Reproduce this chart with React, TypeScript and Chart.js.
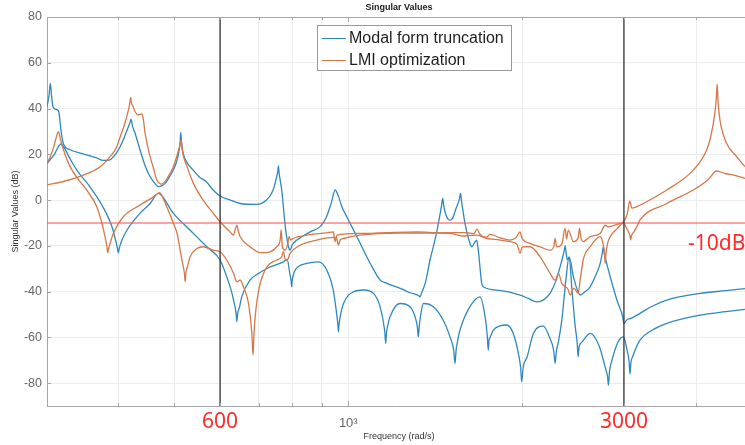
import { useEffect, useRef } from 'react';
import { Chart, registerables } from 'chart.js';

Chart.register(...registerables);

// ---- data: [frequency (rad/s), singular value (dB)] ----
const blueUpper: [number, number][] = [
  [301, 40.7], [303.5, 46], [305, 51], [306.5, 45.5], [308.5, 40.5], [313, 39.5], [315.5, 38.5], [318.4, 30],
  [321.5, 24.5], [330, 22], [347.5, 20.2], [367.6, 18.3], [376.5, 17.3], [387, 17.6], [396, 20.2], [402.8, 23.3],
  [409, 27], [414.2, 30.6], [418.5, 33.5], [420.8, 35.4], [423, 32.5], [427.6, 29.2], [436, 22], [445, 15],
  [454, 10.2], [462, 7.5], [469, 5.9], [476, 6.3], [482, 7.3], [490, 10], [498, 13.1], [504, 16.5], [508.6, 20.4],
  [511.5, 25], [513, 29.6], [514.5, 25], [518, 20.4], [527, 16], [539, 13.1], [553, 10], [568, 8], [583, 4.5],
  [600, 1.75], [625, 0], [650, -1.5], [693, -1.9], [722, 0], [740, 4], [747, 7.3], [753, 11], [755.5, 13],
  [757, 14.9], [759, 12], [762, 9], [767, 4.4], [778, -11.7], [788, -20.4], [793, -21.9], [800, -19.5],
  [815, -17.5], [859, -13.9], [894, -11.6], [917, -7.3], [935, -1], [949, 4.4], [962, 1.5], [975, -3], [994, -7.3],
  [1035, -16], [1048, -18.8], [1091, -27.6], [1136, -35], [1166, -36.4], [1230, -38.6], [1279, -40.5],
  [1325, -41.8], [1331, -42.3], [1340, -40.5], [1360, -36], [1385, -26.2], [1421, -14.6], [1450, -2.5],
  [1457, 0.7], [1462, -2], [1470, -5], [1485, -8], [1500, -8.8], [1515, -8], [1535, -4], [1555, 0], [1565, 2.9],
  [1570, -0.5], [1578, -4], [1592, -10.1], [1624, -18.9], [1636, -20.4], [1655, -18.5], [1668, -17.5],
  [1679, -21.9], [1702, -36.4], [1713, -37.9], [1830, -39.5], [1983, -41.5], [2050, -43], [2120, -44.5],
  [2180, -43.5], [2235, -40.8], [2290, -35], [2326, -29.2], [2350, -25], [2365, -22], [2373, -20], [2382, -23],
  [2394, -26], [2413, -25], [2453, -33.5], [2519, -41.5], [2570, -40], [2622, -37.9], [2680, -33], [2729, -27.7],
  [2752, -23], [2763, -20.4], [2772, -23], [2790, -26], [2840, -33.5], [2920, -44], [2985, -51], [3000, -54],
  [3030, -52.5], [3100, -51.5], [3198, -49.5], [3350, -46.5], [3558, -43.7], [4062, -40.8], [4500, -39.6],
  [4859, -38.7],
];

const blueLower: [number, number][] = [
  [301, 16], [310, 20], [318, 24.5], [321.5, 23.3], [330, 18], [339, 13.1], [357, 5.9], [376, -2.9], [390, -11.7],
  [396, -18], [398.5, -21], [400, -23], [401.5, -21], [405, -18], [414, -13.1], [436, -5.8], [454, -1.5],
  [469, 2.9], [498, -5.8], [532, -13.1], [569, -20.4], [600, -26.2], [616, -33.5], [628, -40], [633, -43.7],
  [639.5, -49.5], [641.4, -53.2], [643.5, -49.5], [648, -47], [654, -42.3], [676, -35], [700, -32], [723, -29.9],
  [772, -27], [784, -26], [792, -32], [796.5, -35.5], [798, -37.9], [799.5, -35.5], [803, -33], [809, -30.6],
  [848, -27.7], [888, -27], [918, -30.6], [942, -39.3], [955, -50], [959.5, -54.5], [961.6, -57.6],
  [963.8, -54.5], [970, -50], [981, -45.2], [1021, -40.1], [1064, -39.3], [1106, -40.8], [1135, -46.6],
  [1156, -57], [1161, -62.7], [1164.5, -58], [1170, -55], [1181, -51], [1229, -45.2], [1279, -46.6], [1305, -51],
  [1317, -55.5], [1322, -59.8], [1327, -55], [1335, -50], [1349, -45.2], [1403, -46.6], [1460, -52.5],
  [1500, -59.8], [1522, -65.5], [1530, -71.4], [1537, -65.5], [1545, -62], [1561, -56.8], [1624, -46.6],
  [1690, -42.3], [1725, -51], [1741, -60], [1747, -65.6], [1752, -61.5], [1760, -60], [1783, -56.8], [1830, -55],
  [1880, -54.6], [1930, -58.3], [1975, -68.5], [1988, -73.5], [1996, -79.4], [2008, -73], [2040, -68.5],
  [2091, -58.3], [2176, -55.1], [2230, -60], [2268, -66], [2280, -71.4], [2292, -66], [2310, -62], [2342, -52.5],
  [2380, -35], [2411, -25], [2440, -40], [2470, -55], [2490, -62.5], [2499, -68.5], [2510, -64], [2540, -62],
  [2622, -58.3], [2720, -64], [2790, -74], [2810, -77], [2820, -80.9], [2832, -75], [2860, -70], [2930, -62],
  [2994, -59.8], [3040, -66], [3062, -70.5], [3073, -76], [3085, -71], [3110, -68], [3198, -61.2], [3350, -57],
  [3558, -53.9], [4062, -50.3], [4500, -48.8], [4859, -47.8],
];

const orangeA: [number, number][] = [
  [301, 16], [305, 19], [309, 23], [312, 27], [315, 29.9], [318, 26], [321.5, 21.9], [330, 14.6], [341, 9],
  [352.5, 4.4], [367, -2.9], [376, -11.7], [380, -17], [382, -20], [383.5, -23], [385, -21], [387, -19],
  [392, -14.6], [408, -7.3], [436, -2.2], [460, 1.4], [471, 3.2], [485, -2.9], [498, -10.1], [506, -15],
  [511.7, -21.9], [517, -28], [520.5, -32], [522, -35.7], [523.5, -32], [527, -29], [532.4, -24.8], [547, -21.2],
  [561, -20.4], [584, -21.9], [600, -22.6], [616, -26.2], [633, -32], [641.4, -35.7], [650, -35], [658.6, -37.9],
  [672, -45.2], [681, -58.3], [684, -67.8], [687, -58], [690, -51], [697, -42], [704, -36.4], [723, -29.2],
  [752, -26.2], [767, -24.8], [772, -22.5], [778, -26], [783, -26.5], [793, -23.3], [826, -19.7], [882, -17.5],
  [942, -16.3], [955, -16.8], [961.6, -19.7], [968, -17.5], [981, -16.8], [1048, -15.3], [1230, -14.4],
  [1441, -14.4], [1520, -14.8], [1540, -15.2], [1582, -15.7], [1610, -15.5], [1670, -15.3], [1736, -16.8],
  [1800, -17.2], [1905, -18.2], [1960, -19.5], [1983, -23.3], [2000, -20.5], [2063, -20.4], [2148, -24.8],
  [2235, -32], [2280, -35], [2311, -32], [2342, -36.4], [2400, -39], [2421, -41.5], [2459, -38.5], [2498, -40.8],
  [2520, -35], [2550, -26.2], [2622, -20.4], [2729, -16], [2760, -19], [2776, -23.5], [2784, -27.7],
  [2792, -23.5], [2810, -19], [2840, -16], [2920, -12.5], [2994, -10.1], [3040, -13], [3072, -15.5],
  [3081, -17.5], [3092, -15.5], [3120, -14], [3157, -11.7], [3198, -8.7], [3558, -1.5], [3955, 4.4], [4200, 9],
  [4340, 12.7], [4500, 11.5], [4642, 10.9], [4859, 9.5],
];

const orangeB: [number, number][] = [
  [301, 6.6], [320, 8], [348, 10.9], [372, 14.6], [387, 19], [397, 23], [403, 27.7], [410, 33], [416, 39],
  [418.5, 42], [420.2, 44.9], [421.5, 42.5], [424, 41], [427.6, 38.6], [433, 37.2], [439, 37.6], [442, 35],
  [445, 29.2], [454, 19], [460, 14], [466.3, 8.8], [475.7, 7], [486, 9.5], [498, 14.6], [508.6, 21.9],
  [512, 24.5], [514, 26.5], [516, 21.9], [526, 14.6], [539.5, 7.3], [560.7, 0], [584, -5.8], [600, -9.5],
  [624.5, -13.9], [632.8, -15.3], [637, -13], [641.4, -11], [645, -13.5], [650, -16], [676, -20.4], [704, -23],
  [732.5, -22.6], [752, -20.4], [762.3, -17.5], [765.4, -13], [769, -20.4], [777.7, -21.9], [785, -19.5],
  [790, -16], [795, -17.5], [802, -16.8], [848, -15.3], [918, -14.3], [942, -13.9], [949, -18.2], [956, -15.3],
  [1048, -14.6], [1150, -14.3], [1317, -13.9], [1441, -14.3], [1600, -14.2], [1650, -14.8], [1670, -12.7],
  [1690, -15], [1736, -16.2], [1759, -15], [1830, -16.5], [1905, -17.5], [1950, -16.5], [1983, -13.9],
  [2000, -17], [2063, -18.9], [2150, -20.5], [2235, -21.9], [2270, -20], [2280, -16.8], [2295, -20.5],
  [2340, -19.5], [2373, -12.4], [2387, -17], [2403, -13.1], [2453, -18.2], [2500, -16.5], [2513, -12.4],
  [2530, -17], [2550, -18.2], [2622, -16], [2729, -14.6], [2784, -11], [2817, -11.7], [2925, -10.5],
  [2994, -9.5], [3040, -6], [3065, -1], [3073, -0.5], [3095, -3.5], [3150, -3], [3241, -1.5], [3558, 4.4],
  [3955, 13.1], [4172, 21.9], [4242, 28], [4310, 37.9], [4335, 44.5], [4350, 50.7], [4365, 43], [4398, 35],
  [4517, 24.8], [4700, 19], [4859, 14.6],
];

const yTickValues = [-80, -60, -40, -20, 0, 20, 40, 60, 80];
const xTickValues = [400, 500, 600, 700, 800, 900, 1000, 2000, 3000, 4000];
const xLabelled = [1000];
const xLabelText = ['10³'];
const xRange = [301, 4860];
const yRange = [-90, 80];
const markerFreqs = [600, 3000];
const markerLabels = ['600', '3000'];
const thresholdDb = -10;
const thresholdLabel = '-10dB';
const legendLabels = ['Modal form truncation', 'LMI optimization'];
const chartTitle = 'Singular Values';
const xTitle = 'Frequency (rad/s)';
const yTitle = 'Singular Values (dB)';

const BLUE = '#2f88bd';
const ORANGE = '#d4784a';
const RED = '#ff2b2b';

const overlay = {
  id: 'overlay',
  afterDatasetsDraw(chart: any) {
    const { ctx, chartArea: a, scales } = chart;
    const x = scales.x;
    const y = scales.y;
    ctx.save();
    const yr = y.getPixelForValue(thresholdDb);
    ctx.strokeStyle = 'rgba(252,90,90,0.75)';
    ctx.lineWidth = 1.6;
    ctx.beginPath();
    ctx.moveTo(a.left, yr);
    ctx.lineTo(a.right, yr);
    ctx.stroke();
    ctx.strokeStyle = '#333333';
    ctx.lineWidth = 1.3;
    for (const f of markerFreqs) {
      const px = x.getPixelForValue(f);
      ctx.beginPath();
      ctx.moveTo(px, a.top);
      ctx.lineTo(px, a.bottom);
      ctx.stroke();
    }
    ctx.restore();
  },
  afterDraw(chart: any) {
    const { ctx, chartArea: a, scales } = chart;
    const x = scales.x;
    const y = scales.y;
    ctx.save();
    // top border and inward ticks
    ctx.strokeStyle = '#a6a6a6';
    ctx.lineWidth = 1;
    ctx.beginPath();
    ctx.moveTo(a.left, a.top + 0.5);
    ctx.lineTo(a.right, a.top + 0.5);
    ctx.stroke();
    ctx.beginPath();
    for (const v of yTickValues) {
      const py = Math.round(y.getPixelForValue(v)) + 0.5;
      ctx.moveTo(a.left, py);
      ctx.lineTo(a.left + 4, py);
    }
    for (const v of xTickValues) {
      const px = Math.round(x.getPixelForValue(v)) + 0.5;
      const len = v === 1000 ? 5 : 3;
      ctx.moveTo(px, a.bottom);
      ctx.lineTo(px, a.bottom - len);
      ctx.moveTo(px, a.top);
      ctx.lineTo(px, a.top + len);
    }
    ctx.stroke();

    // titles
    const cx = 399;
    ctx.fillStyle = '#222';
    ctx.textAlign = 'center';
    ctx.textBaseline = 'middle';
    ctx.font = 'bold 9px "Liberation Sans", Arial, sans-serif';
    ctx.fillText(chartTitle, cx, 8);
    ctx.fillStyle = '#333';
    ctx.font = '9px "Liberation Sans", Arial, sans-serif';
    ctx.fillText(xTitle, cx, 437);
    ctx.save();
    ctx.translate(16, (a.top + a.bottom) / 2);
    ctx.rotate(-Math.PI / 2);
    ctx.fillText(yTitle, 0, 0);
    ctx.restore();

    // red annotations
    ctx.fillStyle = RED;
    ctx.font = '21px "Noto Sans", "DejaVu Sans", sans-serif';
    ctx.textAlign = 'center';
    markerFreqs.forEach((f, i) => {
      ctx.fillText(markerLabels[i], x.getPixelForValue(f), 422);
    });
    ctx.textAlign = 'left';
    ctx.fillText(thresholdLabel, 688, y.getPixelForValue(thresholdDb) + 21);

    // legend
    const lx = 317.5, ly = 25.5, lw = 194, lh = 45;
    ctx.fillStyle = '#ffffff';
    ctx.fillRect(lx, ly, lw, lh);
    ctx.strokeStyle = '#9a9a9a';
    ctx.lineWidth = 1;
    ctx.strokeRect(lx, ly, lw, lh);
    const colors = [BLUE, ORANGE];
    ctx.font = '16px "Liberation Sans", Arial, sans-serif';
    ctx.textAlign = 'left';
    ctx.textBaseline = 'middle';
    legendLabels.forEach((t, i) => {
      const ry = 38.5 + i * 22;
      ctx.strokeStyle = colors[i];
      ctx.lineWidth = 1;
      ctx.beginPath();
      ctx.moveTo(322, ry);
      ctx.lineTo(346, ry);
      ctx.stroke();
      ctx.fillStyle = '#1e1e1e';
      ctx.fillText(t, 349, ry + 0.5);
    });
    ctx.restore();
  },
};

export default function App() {
  const ref = useRef<HTMLCanvasElement>(null);
  useEffect(() => {
    const canvas = ref.current;
    if (!canvas) return;
    const toPts = (arr: [number, number][]) => arr.map(([f, d]) => ({ x: f, y: d }));
    const ds = (arr: [number, number][], color: string, order: number) => ({
      data: toPts(arr),
      borderColor: color,
      backgroundColor: color,
      borderWidth: 1.3,
      pointRadius: 0,
      fill: false,
      cubicInterpolationMode: 'monotone',
      order,
    });
    const grid = { color: '#ececec', lineWidth: 1, drawTicks: false };
    const border = { display: true, color: '#a6a6a6', width: 1 };
    const chart = new Chart(canvas, {
      type: 'line',
      data: {
        datasets: [
          ds(blueUpper, BLUE, 1),
          ds(blueLower, BLUE, 1),
          ds(orangeA, ORANGE, 0),
          ds(orangeB, ORANGE, 0),
        ] as any,
      },
      options: {
        responsive: false,
        animation: false,
        devicePixelRatio: 1,
        layout: { padding: { top: 17, left: 0, right: 0, bottom: 0 } },
        plugins: { legend: { display: false }, tooltip: { enabled: false }, title: { display: false } },
        scales: {
          x: {
            type: 'logarithmic',
            min: xRange[0],
            max: xRange[1],
            afterBuildTicks: (s: any) => {
              s.ticks = xTickValues.map((v) => ({ value: v }));
            },
            afterFit: (s: any) => {
              s.height = 39;
            },
            ticks: {
              autoSkip: false,
              maxRotation: 0,
              minRotation: 0,
              padding: 10,
              color: '#666',
              font: { family: 'Liberation Sans', size: 13 },
              callback: (v: any) => {
                const i = xLabelled.indexOf(Number(v));
                return i >= 0 ? xLabelText[i] : '';
              },
            },
            grid,
            border,
          },
          y: {
            type: 'linear',
            min: yRange[0],
            max: yRange[1],
            afterBuildTicks: (s: any) => {
              s.ticks = yTickValues.map((v) => ({ value: v }));
            },
            afterFit: (s: any) => {
              s.width = 47;
            },
            ticks: {
              padding: 5,
              color: '#666',
              font: { family: 'Liberation Sans', size: 12.5 },
              callback: (v: any) => String(v),
            },
            grid,
            border,
          },
        },
      } as any,
      plugins: [overlay],
    });
    return () => chart.destroy();
  }, []);
  return (
    <div style={{ position: 'fixed', left: 0, top: 0, width: 745, height: 445, background: '#fff' }}>
      <canvas ref={ref} width={745} height={445} style={{ display: 'block', width: 745, height: 445 }} />
    </div>
  );
}
